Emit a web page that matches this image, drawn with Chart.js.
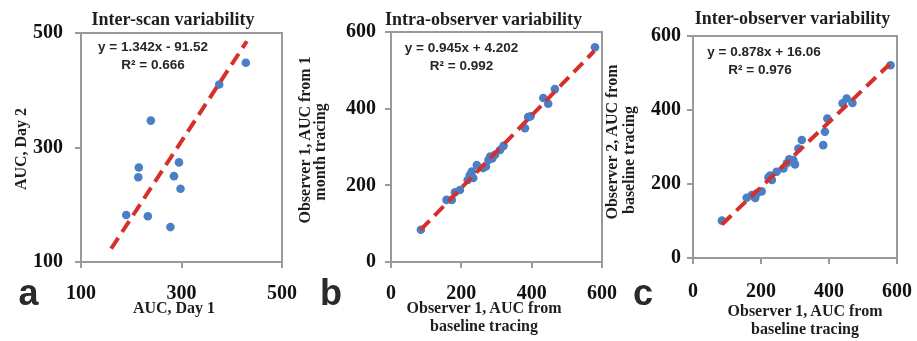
<!DOCTYPE html>
<html><head><meta charset="utf-8">
<script src="https://cdn.jsdelivr.net/npm/chart.js@4/dist/chart.umd.min.js"></script>
<style>
html,body{margin:0;width:917px;height:341px;background:#fff;overflow:hidden;}
body{position:relative;}
canvas{position:absolute;top:0;}
.t{position:absolute;transform:translate(-50%,-50%);white-space:nowrap;font-family:"Liberation Serif",serif;font-weight:bold;line-height:1;color:#1e1e1e;}
.ttl{font-size:18px;}
.ax{font-size:16px;}
.rot{transform:translate(-50%,-50%) rotate(-90deg);}
.eq{font-family:"Liberation Sans",Arial,sans-serif;font-size:13.5px;color:#262626;}
.lab{position:absolute;font-family:"Liberation Sans",Arial,sans-serif;font-weight:bold;font-size:36px;line-height:1;color:#2a2a2a;}
</style></head>
<body>
<canvas id="ca" width="330" height="341" style="left:0px"></canvas>
<canvas id="cb" width="340" height="341" style="left:300px"></canvas>
<canvas id="cc" width="340" height="341" style="left:610px"></canvas>

<div class="t ttl" style="left:173px;top:19px">Inter-scan variability</div>
<div class="t ttl" style="left:483.5px;top:18.5px">Intra-observer variability</div>
<div class="t ttl" style="left:792.5px;top:17.5px">Inter-observer variability</div>

<div class="t eq" style="left:153px;top:47px">y = 1.342x - 91.52</div>
<div class="t eq" style="left:153px;top:65px">R² = 0.666</div>
<div class="t eq" style="left:461.5px;top:48px">y = 0.945x + 4.202</div>
<div class="t eq" style="left:461.5px;top:66px">R² = 0.992</div>
<div class="t eq" style="left:764px;top:52px">y = 0.878x + 16.06</div>
<div class="t eq" style="left:760px;top:70px">R² = 0.976</div>

<div class="t ax" style="left:174px;top:307.5px">AUC, Day 1</div>
<div class="t ax" style="left:484px;top:307.5px">Observer 1, AUC from</div>
<div class="t ax" style="left:484px;top:326px">baseline tracing</div>
<div class="t ax" style="left:805px;top:311px">Observer 1, AUC from</div>
<div class="t ax" style="left:805px;top:329px">baseline tracing</div>

<div class="t ax rot" style="left:21px;top:149px">AUC, Day 2</div>
<div class="t ax rot" style="left:305px;top:140px">Observer 1, AUC from 1</div>
<div class="t ax rot" style="left:320px;top:152px">month tracing</div>
<div class="t ax rot" style="left:612px;top:142px">Observer 2, AUC from</div>
<div class="t ax rot" style="left:629px;top:160px">baseline tracing</div>

<div class="lab" style="left:18.5px;top:274.5px">a</div>
<div class="lab" style="left:320px;top:274.5px">b</div>
<div class="lab" style="left:633px;top:274.5px">c</div>

<script>
// Panel a: inter-scan variability
const scanDay1 = [190, 215, 214, 239, 233, 278, 285, 295, 298, 375, 428];
const scanDay2 = [182, 265, 248, 347, 180, 161, 250, 274, 228, 410, 448];
const scanFit = {slope: 1.342, intercept: -91.52};
const scanFitRange = [160, 430];
const scanTicks = {min: 100, max: 500, step: 200};

// Panel b: intra-observer variability
const intraBaseline = [85, 158, 173, 182, 196, 218, 224, 230, 234, 244, 262, 270, 277, 282, 288, 296, 310, 320, 381, 390, 397, 433, 447, 466, 580];
const intraMonth    = [84, 162, 162, 182, 188, 214, 227, 236, 219, 253, 245, 249, 266, 275, 270, 280, 292, 303, 349, 378, 380, 428, 413, 451, 560];
const intraFit = {slope: 0.945, intercept: 4.202};
const intraFitRange = [84, 578];

// Panel c: inter-observer variability
const interObs1 = [85, 158, 173, 183, 188, 202, 222, 227, 232, 246, 266, 276, 283, 295, 300, 310, 320, 383, 388, 395, 440, 452, 469, 581];
const interObs2 = [101, 163, 170, 162, 175, 180, 218, 223, 211, 233, 242, 256, 267, 265, 253, 296, 319, 305, 341, 377, 418, 431, 419, 521];
const interFit = {slope: 0.878, intercept: 16.06};
const interFitRange = [85, 578];

const obsTicks = {min: 0, max: 600, step: 200};

const BLUE = '#4a7fc6', RED = '#d6302c', GRAY = '#9a9a9a';
const tickFont = {family: 'Liberation Serif', weight: 'bold', size: 20};

const boxPlugin = {
  id: 'box',
  beforeDatasetsDraw(chart) {
    const a = chart.chartArea, c = chart.ctx;
    c.save(); c.strokeStyle = GRAY; c.lineWidth = 2;
    c.strokeRect(a.left, a.top, a.right - a.left, a.bottom - a.top);
    c.restore();
  }
};

function makeChart(id, xs, ys, fit, range, ticks, geo) {
  const pts = xs.map((x, i) => ({x, y: ys[i]}));
  const line = range.map(x => ({x, y: fit.slope * x + fit.intercept}));
  return new Chart(document.getElementById(id), {
    type: 'scatter',
    data: {datasets: [
      {data: pts, backgroundColor: BLUE, borderWidth: 0, pointRadius: 4.3, order: 1},
      {type: 'line', data: line, showLine: true, pointRadius: 0, borderColor: RED, borderWidth: 4, borderDash: [13, 7], fill: false, order: 0}
    ]},
    options: {
      responsive: false, animation: false, events: [],
      layout: {padding: {top: geo.top, right: geo.right, left: 0, bottom: 0}},
      plugins: {legend: {display: false}, tooltip: {enabled: false}},
      scales: {
        x: {type: 'linear', min: ticks.min, max: ticks.max,
            ticks: {stepSize: ticks.step, font: tickFont, color: '#111', padding: geo.xpad},
            grid: {drawOnChartArea: false, tickLength: 6, color: GRAY, lineWidth: 2},
            border: {color: GRAY, width: 2},
            afterFit(s) { s.height = geo.xh; }},
        y: {type: 'linear', min: ticks.min, max: ticks.max,
            ticks: {stepSize: ticks.step, font: tickFont, color: '#111', padding: geo.ypad},
            grid: {drawOnChartArea: false, tickLength: 6, color: GRAY, lineWidth: 2},
            border: {color: GRAY, width: 2},
            afterFit(s) { s.width = geo.yw; }}
      }
    },
    plugins: [boxPlugin]
  });
}

makeChart('ca', scanDay1, scanDay2, scanFit, scanFitRange, scanTicks,
  {top: 33, right: 48, xh: 79, yw: 81, xpad: 14, ypad: 12});
makeChart('cb', intraBaseline, intraMonth, intraFit, intraFitRange, obsTicks,
  {top: 32, right: 38, xh: 79, yw: 91, xpad: 14, ypad: 9});
makeChart('cc', interObs1, interObs2, interFit, interFitRange, obsTicks,
  {top: 36, right: 53, xh: 83, yw: 83, xpad: 16, ypad: 6});
</script>
</body></html>
